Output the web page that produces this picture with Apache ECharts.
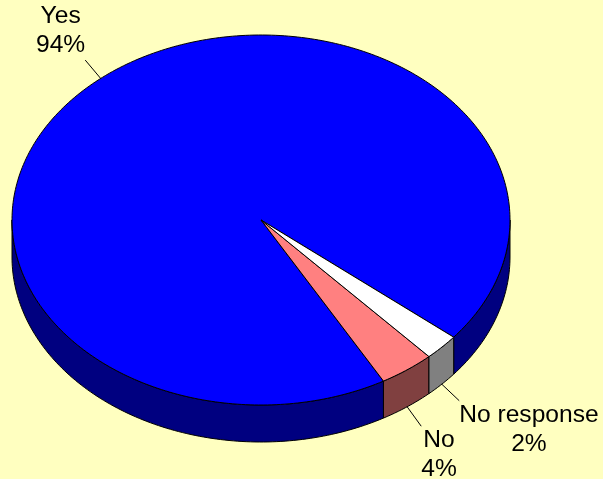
<!DOCTYPE html>
<html><head><meta charset="utf-8">
<script src="https://cdn.jsdelivr.net/npm/echarts@6/dist/echarts.min.js"></script>
<style>html,body{margin:0;padding:0;background:#FFFFC0}#c{width:603px;height:479px}</style>
</head><body><div id="c"></div>
<script>
// ---- data ----
const categories = ['Yes', 'No', 'No response'];
const values = [94.1, 3.6, 2.3];

// ---- styling / geometry ----
const topColors = ['#0000FF', '#FF8080', '#FFFFFF'];
const sideColors = ['#000080', '#804040', '#808080'];
const CX = 261, CY = 220, RX = 249, RY = 185, DEPTH = 37;
const END_ANGLE = 399.3; // degrees, screen (clockwise) convention
const FONT = '24.6px "Liberation Sans", Arial, sans-serif';
const LINE_H = 29;

const total = values.reduce((a, b) => a + b, 0);
const angles = [];
(function () {
  let cur = END_ANGLE;
  for (let i = 0; i < values.length; i++) {
    const a1 = cur, a0 = cur - values[i] / total * 360;
    angles.push([a0, a1]);
    cur = a0;
  }
})();

const ctx = document.createElement('canvas').getContext('2d');
ctx.font = FONT;
function textWidth(lines) { return Math.max.apply(null, lines.map(l => ctx.measureText(l).width)); }

function pt(deg, dy) {
  const r = deg * Math.PI / 180;
  return [CX + RX * Math.cos(r), CY + RY * Math.sin(r) + (dy || 0)];
}
function arc(s, e, dy) {
  const n = Math.max(2, Math.ceil(Math.abs(e - s) / 1));
  const out = [];
  for (let k = 0; k <= n; k++) out.push(pt(s + (e - s) * k / n, dy));
  return out;
}

function renderItem(params, api) {
  const i = params.dataIndex;
  const [a0, a1] = angles[i];
  const children = [];
  // side walls (front half only: 0..180 deg)
  for (let k = -1; k <= 2; k++) {
    const s = Math.max(a0, k * 360), e = Math.min(a1, k * 360 + 180);
    if (e - s > 0.01) {
      const pts = arc(s, e, 0).concat(arc(e, s, DEPTH));
      children.push({ type: 'polygon', z2: 1, shape: { points: pts },
        style: { fill: sideColors[i], stroke: '#000', lineWidth: 1 } });
    }
  }
  // top face
  const topPts = [[CX, CY]].concat(arc(a0, a1, 0));
  children.push({ type: 'polygon', z2: 2, shape: { points: topPts },
    style: { fill: topColors[i], stroke: '#000', lineWidth: 1 } });
  // label with leader line
  const mid = (a0 + a1) / 2, mr = mid * Math.PI / 180;
  const c = Math.cos(mr), sn = Math.sin(mr);
  const st = pt(mid, sn > 0 ? DEPTH : 0);
  const en = [st[0] + 24 * c, st[1] + 24 * sn];
  children.push({ type: 'line', z2: 3, shape: { x1: st[0], y1: st[1], x2: en[0], y2: en[1] },
    style: { stroke: '#000', lineWidth: 1 } });
  const pct = Math.round(api.value(0) / total * 100) + '%';
  const lines = [categories[i], pct];
  const w = textWidth(lines);
  children.push({ type: 'text', z2: 3, style: {
    text: lines.join('\n'), x: c >= 0 ? en[0] + w / 2 : en[0] - w / 2, y: en[1],
    font: FONT, fill: '#000', align: 'center', verticalAlign: sn > 0 ? 'top' : 'bottom', lineHeight: LINE_H } });
  return { type: 'group', children };
}

const chart = echarts.init(document.getElementById('c'), null, { renderer: 'canvas' });
chart.setOption({
  backgroundColor: '#FFFFC0',
  animation: false,
  series: [{
    type: 'custom',
    coordinateSystem: 'none',
    renderItem: renderItem,
    data: values.map((v, i) => ({ name: categories[i], value: [v] }))
  }]
});
</script></body></html>
